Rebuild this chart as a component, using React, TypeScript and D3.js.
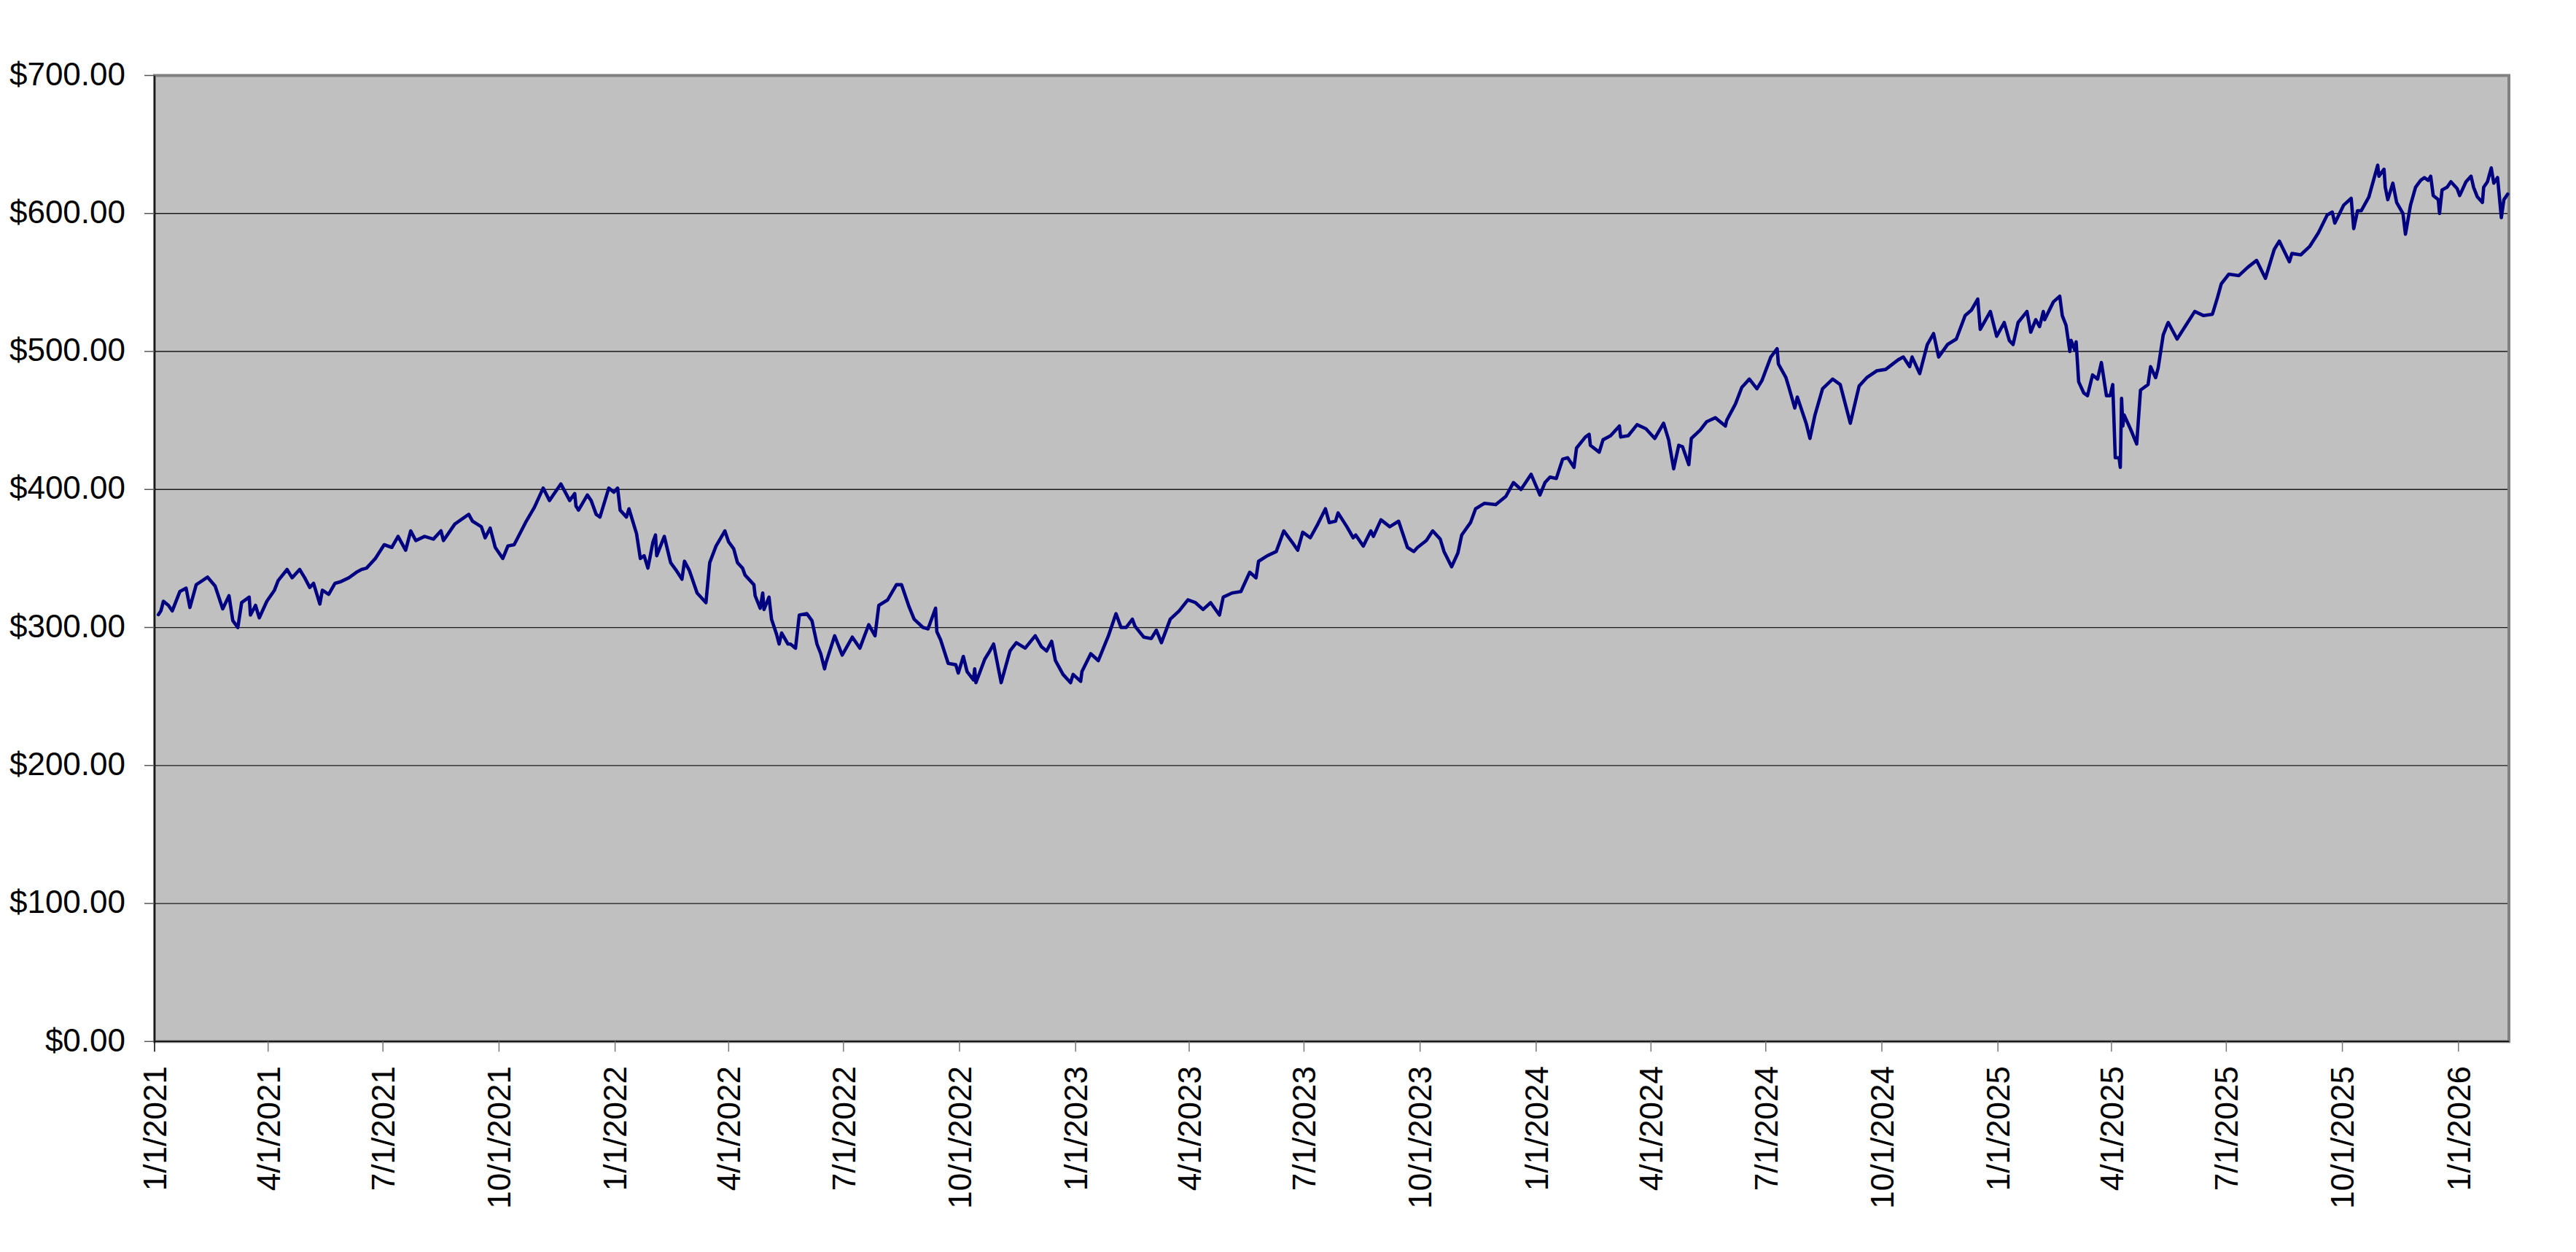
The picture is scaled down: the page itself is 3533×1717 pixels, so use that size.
import React from "react";
import * as d3 from "d3";

// ---------- data (closing prices) ----------
const s2021: [string, number][] = [
  ["2021-01-04", 309.3], ["2021-01-06", 312], ["2021-01-08", 319], ["2021-01-12", 316], ["2021-01-15", 312],
  ["2021-01-21", 326], ["2021-01-26", 328.5], ["2021-01-29", 314.5], ["2021-02-03", 331], ["2021-02-08", 334],
  ["2021-02-12", 336.5], ["2021-02-18", 330], ["2021-02-24", 313.5], ["2021-03-01", 323], ["2021-03-04", 305],
  ["2021-03-08", 300], ["2021-03-11", 318], ["2021-03-17", 322], ["2021-03-18", 309], ["2021-03-22", 316],
  ["2021-03-25", 307], ["2021-03-31", 319], ["2021-04-06", 327], ["2021-04-09", 334], ["2021-04-16", 342],
  ["2021-04-20", 336], ["2021-04-26", 342], ["2021-04-30", 336], ["2021-05-04", 329], ["2021-05-07", 332],
  ["2021-05-12", 317], ["2021-05-14", 327], ["2021-05-19", 324], ["2021-05-24", 332], ["2021-05-28", 333],
  ["2021-06-04", 336], ["2021-06-10", 340], ["2021-06-14", 342], ["2021-06-18", 343], ["2021-06-25", 350],
  ["2021-07-02", 360], ["2021-07-08", 358], ["2021-07-13", 366], ["2021-07-19", 356], ["2021-07-23", 370],
  ["2021-07-27", 363], ["2021-08-03", 366], ["2021-08-10", 364], ["2021-08-16", 370], ["2021-08-18", 363],
  ["2021-08-27", 375], ["2021-09-07", 382], ["2021-09-10", 377], ["2021-09-17", 373], ["2021-09-20", 365],
  ["2021-09-24", 372], ["2021-09-28", 358], ["2021-10-04", 350], ["2021-10-08", 359], ["2021-10-13", 360],
  ["2021-10-22", 376], ["2021-10-29", 387], ["2021-11-05", 401], ["2021-11-10", 392], ["2021-11-19", 404],
  ["2021-11-26", 392], ["2021-11-30", 397], ["2021-12-01", 388], ["2021-12-03", 385], ["2021-12-10", 396],
  ["2021-12-13", 392], ["2021-12-17", 382], ["2021-12-20", 380], ["2021-12-27", 401], ["2021-12-31", 398],
];

const s2022: [string, number][] = [
  ["2022-01-03", 401], ["2022-01-05", 385], ["2022-01-10", 380], ["2022-01-12", 386], ["2022-01-18", 368],
  ["2022-01-21", 350], ["2022-01-24", 352], ["2022-01-27", 343], ["2022-01-31", 362], ["2022-02-02", 367],
  ["2022-02-03", 352], ["2022-02-09", 366], ["2022-02-14", 347], ["2022-02-18", 342], ["2022-02-23", 335],
  ["2022-02-25", 348], ["2022-03-01", 341], ["2022-03-07", 325], ["2022-03-14", 318], ["2022-03-17", 347],
  ["2022-03-22", 359], ["2022-03-29", 370], ["2022-04-01", 362], ["2022-04-05", 357], ["2022-04-08", 347],
  ["2022-04-12", 343], ["2022-04-14", 338], ["2022-04-21", 331], ["2022-04-22", 323], ["2022-04-26", 314],
  ["2022-04-28", 325], ["2022-04-29", 313], ["2022-05-03", 322], ["2022-05-05", 306], ["2022-05-09", 295],
  ["2022-05-11", 288], ["2022-05-13", 296], ["2022-05-18", 288], ["2022-05-20", 288], ["2022-05-24", 285],
  ["2022-05-27", 309], ["2022-06-02", 310], ["2022-06-06", 305], ["2022-06-10", 288], ["2022-06-13", 281],
  ["2022-06-16", 270], ["2022-06-17", 274], ["2022-06-24", 294], ["2022-06-30", 280], ["2022-07-08", 293],
  ["2022-07-14", 285], ["2022-07-21", 302], ["2022-07-26", 294], ["2022-07-29", 316], ["2022-08-05", 320],
  ["2022-08-12", 331], ["2022-08-16", 331], ["2022-08-22", 315], ["2022-08-26", 306], ["2022-09-02", 300],
  ["2022-09-06", 299], ["2022-09-12", 314], ["2022-09-13", 297], ["2022-09-16", 291], ["2022-09-22", 274],
  ["2022-09-28", 273], ["2022-09-30", 267], ["2022-10-04", 279], ["2022-10-07", 268], ["2022-10-12", 262],
  ["2022-10-13", 270], ["2022-10-14", 260], ["2022-10-21", 277], ["2022-10-25", 283], ["2022-10-28", 288],
  ["2022-11-03", 260], ["2022-11-10", 283], ["2022-11-15", 289], ["2022-11-22", 285], ["2022-11-30", 294],
  ["2022-12-05", 286], ["2022-12-09", 283], ["2022-12-13", 290], ["2022-12-16", 276], ["2022-12-22", 266],
  ["2022-12-28", 260], ["2022-12-30", 266],
];

const s2023: [string, number][] = [
  ["2023-01-05", 261], ["2023-01-06", 268], ["2023-01-13", 281], ["2023-01-19", 276], ["2023-01-27", 294],
  ["2023-02-02", 310], ["2023-02-06", 300], ["2023-02-10", 300], ["2023-02-15", 306], ["2023-02-17", 301],
  ["2023-02-24", 293], ["2023-03-02", 292], ["2023-03-06", 298], ["2023-03-10", 289], ["2023-03-17", 306],
  ["2023-03-24", 312], ["2023-03-31", 320], ["2023-04-06", 318], ["2023-04-12", 313], ["2023-04-18", 318],
  ["2023-04-25", 309], ["2023-04-28", 322], ["2023-05-05", 325], ["2023-05-12", 326], ["2023-05-19", 340],
  ["2023-05-24", 336], ["2023-05-26", 348], ["2023-06-02", 352], ["2023-06-09", 355], ["2023-06-15", 370],
  ["2023-06-23", 360], ["2023-06-26", 356], ["2023-06-30", 369], ["2023-07-06", 365], ["2023-07-12", 375],
  ["2023-07-18", 386], ["2023-07-21", 376], ["2023-07-26", 377], ["2023-07-28", 383], ["2023-08-04", 373],
  ["2023-08-09", 365], ["2023-08-11", 367], ["2023-08-17", 359], ["2023-08-23", 370], ["2023-08-25", 366],
  ["2023-08-31", 378], ["2023-09-07", 373], ["2023-09-14", 377], ["2023-09-21", 358], ["2023-09-26", 355],
  ["2023-09-29", 358], ["2023-10-06", 363], ["2023-10-11", 370], ["2023-10-17", 364], ["2023-10-20", 355],
  ["2023-10-26", 344], ["2023-10-31", 354], ["2023-11-03", 367], ["2023-11-10", 376], ["2023-11-14", 386],
  ["2023-11-21", 390], ["2023-11-30", 389], ["2023-12-08", 395], ["2023-12-14", 405], ["2023-12-20", 400],
  ["2023-12-28", 411],
];

const s2024: [string, number][] = [
  ["2024-01-04", 396], ["2024-01-08", 405], ["2024-01-12", 409], ["2024-01-17", 408], ["2024-01-22", 422],
  ["2024-01-26", 423], ["2024-01-31", 416], ["2024-02-02", 430], ["2024-02-09", 438], ["2024-02-12", 440],
  ["2024-02-13", 432], ["2024-02-20", 427], ["2024-02-23", 436], ["2024-02-29", 439], ["2024-03-07", 446],
  ["2024-03-08", 438], ["2024-03-14", 439], ["2024-03-21", 447], ["2024-03-28", 444], ["2024-04-04", 437],
  ["2024-04-11", 448], ["2024-04-15", 436], ["2024-04-19", 415], ["2024-04-23", 432], ["2024-04-26", 431],
  ["2024-05-01", 418], ["2024-05-03", 437], ["2024-05-10", 443], ["2024-05-15", 449], ["2024-05-22", 452],
  ["2024-05-30", 446], ["2024-05-31", 450], ["2024-06-07", 462], ["2024-06-12", 474], ["2024-06-18", 480],
  ["2024-06-24", 473], ["2024-06-28", 479], ["2024-07-05", 496], ["2024-07-10", 502], ["2024-07-11", 491],
  ["2024-07-17", 481], ["2024-07-19", 475], ["2024-07-24", 459], ["2024-07-26", 467], ["2024-08-02", 448],
  ["2024-08-05", 437], ["2024-08-09", 454], ["2024-08-15", 473], ["2024-08-23", 480], ["2024-08-29", 476],
  ["2024-09-06", 448], ["2024-09-13", 475], ["2024-09-19", 481], ["2024-09-27", 486], ["2024-10-04", 487],
  ["2024-10-14", 494], ["2024-10-18", 496], ["2024-10-23", 489], ["2024-10-25", 496], ["2024-10-31", 484],
  ["2024-11-06", 505], ["2024-11-11", 513], ["2024-11-15", 496], ["2024-11-22", 505], ["2024-11-29", 509],
  ["2024-12-06", 526], ["2024-12-11", 530], ["2024-12-16", 538], ["2024-12-18", 516], ["2024-12-26", 529],
  ["2024-12-31", 511],
];

const s2025: [string, number][] = [
  ["2025-01-06", 521], ["2025-01-10", 508], ["2025-01-13", 505], ["2025-01-17", 521], ["2025-01-24", 529],
  ["2025-01-27", 514], ["2025-01-31", 523], ["2025-02-03", 518], ["2025-02-06", 529], ["2025-02-07", 523],
  ["2025-02-14", 536], ["2025-02-19", 540], ["2025-02-21", 526], ["2025-02-24", 519], ["2025-02-27", 500],
  ["2025-02-28", 508], ["2025-03-03", 501], ["2025-03-04", 507], ["2025-03-06", 478], ["2025-03-10", 470],
  ["2025-03-13", 468], ["2025-03-17", 483], ["2025-03-21", 480], ["2025-03-24", 492], ["2025-03-28", 468],
  ["2025-03-31", 468], ["2025-04-02", 476], ["2025-04-04", 423], ["2025-04-07", 423], ["2025-04-08", 416],
  ["2025-04-09", 466], ["2025-04-10", 446], ["2025-04-11", 454], ["2025-04-16", 444], ["2025-04-21", 433],
  ["2025-04-22", 446], ["2025-04-24", 472], ["2025-04-30", 476], ["2025-05-02", 489], ["2025-05-06", 481],
  ["2025-05-08", 488], ["2025-05-12", 512], ["2025-05-15", 519], ["2025-05-16", 521], ["2025-05-23", 509],
  ["2025-05-30", 519], ["2025-06-06", 529], ["2025-06-13", 526], ["2025-06-20", 527], ["2025-06-24", 539],
  ["2025-06-27", 549], ["2025-07-03", 556], ["2025-07-11", 555], ["2025-07-18", 561], ["2025-07-25", 566],
  ["2025-08-01", 553], ["2025-08-08", 574], ["2025-08-12", 580], ["2025-08-20", 565], ["2025-08-22", 571],
  ["2025-08-29", 570], ["2025-09-05", 576], ["2025-09-12", 586], ["2025-09-19", 599], ["2025-09-23", 601],
  ["2025-09-25", 593], ["2025-10-02", 606], ["2025-10-08", 611], ["2025-10-10", 589], ["2025-10-13", 602],
  ["2025-10-16", 602], ["2025-10-22", 612], ["2025-10-29", 635], ["2025-10-30", 627], ["2025-11-03", 632],
  ["2025-11-04", 619], ["2025-11-06", 610], ["2025-11-10", 622], ["2025-11-13", 608], ["2025-11-18", 600],
  ["2025-11-20", 585], ["2025-11-24", 606], ["2025-11-28", 619], ["2025-12-02", 624], ["2025-12-05", 626],
  ["2025-12-08", 624], ["2025-12-10", 627], ["2025-12-12", 613], ["2025-12-16", 610], ["2025-12-17", 600],
  ["2025-12-19", 617], ["2025-12-23", 619], ["2025-12-26", 623], ["2025-12-31", 618],
];

const s2026: [string, number][] = [
  ["2026-01-02", 613], ["2026-01-05", 619], ["2026-01-07", 623], ["2026-01-11", 627], ["2026-01-13", 619],
  ["2026-01-16", 612], ["2026-01-20", 608], ["2026-01-21", 619], ["2026-01-24", 623], ["2026-01-27", 633],
  ["2026-01-29", 622], ["2026-02-01", 626], ["2026-02-04", 597], ["2026-02-06", 610], ["2026-02-09", 614],
];

const yTicks = [0, 100, 200, 300, 400, 500, 600, 700];
const xTickDates = [
  "2021-01-01", "2021-04-01", "2021-07-01", "2021-10-01",
  "2022-01-01", "2022-04-01", "2022-07-01", "2022-10-01",
  "2023-01-01", "2023-04-01", "2023-07-01", "2023-10-01",
  "2024-01-01", "2024-04-01", "2024-07-01", "2024-10-01",
  "2025-01-01", "2025-04-01", "2025-07-01", "2025-10-01",
  "2026-01-01",
];
const axisStart = "2021-01-01";
const axisEnd = "2026-02-10";

export default function App() {
  const W = 3533;
  const H = 1717;
  const left = 212;
  const right = 3441;
  const top = 103.5;
  const bottom = 1428.3;

  const parse = d3.utcParse("%Y-%m-%d");
  const x = d3.scaleUtc().domain([parse(axisStart)!, parse(axisEnd)!]).range([left, right]);
  const y = d3.scaleLinear().domain([0, 700]).range([bottom, top]);

  const data = [...s2021, ...s2022, ...s2023, ...s2024, ...s2025, ...s2026].map(([d, v]) => ({
    date: parse(d)!,
    v,
  }));

  const line = d3
    .line<{ date: Date; v: number }>()
    .x((d) => x(d.date))
    .y((d) => y(d.v));

  const fmtY = d3.format("$,.2f");
  const fmtX = d3.utcFormat("%-m/%-d/%Y");
  const font = "'Liberation Sans', Arial, Helvetica, sans-serif";

  return (
    <svg
      width={W}
      height={H}
      style={{ position: "absolute", left: 0, top: 0, display: "block", background: "#fff" }}
      fontFamily={font}
    >
      <rect x={0} y={0} width={W} height={H} fill="#ffffff" />
      {/* plot area */}
      <rect
        x={left}
        y={top}
        width={right - left}
        height={bottom - top}
        fill="#C0C0C0"
        stroke="#808080"
        strokeWidth={4}
      />
      {/* gridlines */}
      {yTicks
        .filter((t) => t > 0 && t < 700)
        .map((t) => (
          <line key={"g" + t} x1={left} x2={right - 2} y1={y(t)} y2={y(t)} stroke="#1a1a1a" strokeWidth={1.3} />
        ))}
      {/* series */}
      <path
        d={line(data) || ""}
        fill="none"
        stroke="#000080"
        strokeWidth={4.6}
        strokeLinejoin="round"
        strokeLinecap="round"
      />
      {/* axes */}
      <line x1={left} x2={left} y1={top} y2={bottom} stroke="#000" strokeWidth={1.6} />
      <line x1={left} x2={right} y1={bottom} y2={bottom} stroke="#000" strokeWidth={1.6} />
      {/* y ticks + labels */}
      {yTicks.map((t) => (
        <g key={"y" + t}>
          <line x1={198} x2={left} y1={y(t)} y2={y(t)} stroke="#555" strokeWidth={1.5} />
          <text x={172} y={y(t)} dy="0.3em" textAnchor="end" fontSize={44} fill="#000">
            {fmtY(t)}
          </text>
        </g>
      ))}
      {/* x ticks + labels */}
      {xTickDates.map((s, i) => {
        const d = parse(s)!;
        const px = x(d);
        return (
          <g key={"x" + s}>
            <line x1={px} x2={px} y1={bottom} y2={bottom + 14} stroke={i === 0 ? "#000" : "#777"} strokeWidth={1.5} />
            <text
              transform={`translate(${px},1462) rotate(-90)`}
              dy="0.36em"
              textAnchor="end"
              fontSize={44}
              fill="#000"
            >
              {fmtX(d)}
            </text>
          </g>
        );
      })}
    </svg>
  );
}
